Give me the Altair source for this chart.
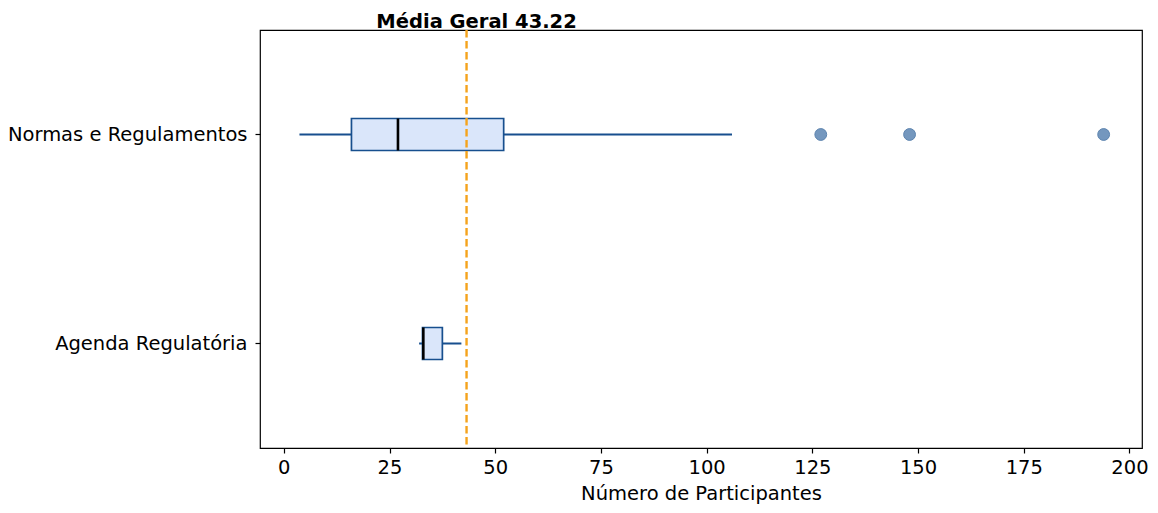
import altair as alt
import pandas as pd

categories = ["Normas e Regulamentos", "Agenda Regulatória"]
whisker_low = [3.7, 32]
q1 = [16, 32.8]
median = [27, 33]
q3 = [52, 37.5]
whisker_high = [106, 42]
outlier_cat = ["Normas e Regulamentos"] * 3
outlier_vals = [127, 148, 193.9]
mean_value = 43.22
x_ticks = [0, 25, 50, 75, 100, 125, 150, 175, 200]

box_df = pd.DataFrame({
    "cat": categories, "low": whisker_low, "q1": q1, "med": median,
    "q3": q3, "high": whisker_high,
})
out_df = pd.DataFrame({"cat": outlier_cat, "val": outlier_vals})
mean_df = pd.DataFrame({"mean": [mean_value], "label": [f"Média Geral {mean_value:.2f}"]})

FONT = "DejaVu Sans"
DARK = "#174f8e"
FS = 19.5

xscale = alt.Scale(domain=[-5.63, 202.97], nice=False, zero=False)
yscale = alt.Scale(domain=categories, paddingInner=0, paddingOuter=0)

xaxis = alt.Axis(values=x_ticks, title="Número de Participantes", grid=False,
                 tickSize=5, tickColor="black", tickWidth=1.2, domain=False,
                 labelColor="black", labelFontSize=FS, titleFontSize=FS,
                 titleFontWeight="normal", labelFont=FONT, titleFont=FONT,
                 titleColor="black", labelPadding=5, titlePadding=8, labelFlush=False)
yaxis = alt.Axis(title=None, grid=False, tickSize=5, tickColor="black", tickWidth=1.2,
                 domain=False, labelColor="black", labelFontSize=FS, labelFont=FONT,
                 labelPadding=8, labelLimit=500)

base = alt.Chart(box_df)

whisker = base.mark_rule(color=DARK, strokeWidth=1.8).encode(
    x=alt.X("low:Q", scale=xscale, axis=xaxis),
    x2="high:Q",
    y=alt.Y("cat:N", scale=yscale, axis=yaxis, sort=categories),
)

box = base.mark_bar(fill="#dae6fa", stroke=DARK, strokeWidth=1.7, size=32).encode(
    x=alt.X("q1:Q", scale=xscale),
    x2="q3:Q",
    y=alt.Y("cat:N", scale=yscale, sort=categories),
)

med = base.mark_tick(color="black", thickness=2.6, size=32, opacity=1).encode(
    x=alt.X("med:Q", scale=xscale),
    y=alt.Y("cat:N", scale=yscale, sort=categories),
)

outliers = alt.Chart(out_df).mark_circle(
    size=140, color="#7497be", opacity=1, stroke="#5d84af", strokeWidth=1
).encode(
    x=alt.X("val:Q", scale=xscale),
    y=alt.Y("cat:N", scale=yscale, sort=categories),
)

mean_rule = alt.Chart(mean_df).mark_rule(
    color="#f5a31c", strokeWidth=2.4, strokeDash=[7.5, 3.5]
).encode(x=alt.X("mean:Q", scale=xscale))

mean_text = alt.Chart(mean_df).mark_text(
    fontSize=FS, fontWeight="bold", font=FONT, color="black",
    align="center", baseline="alphabetic", dx=10
).encode(
    x=alt.X("mean:Q", scale=xscale),
    y=alt.value(-2),
    text="label:N",
)

chart = alt.layer(whisker, box, med, outliers, mean_rule, mean_text).properties(
    width=882, height=418,
    autosize=alt.AutoSizeParams(type="none"),
    padding={"left": 252, "top": 22, "right": 8, "bottom": 57},
    background="white",
).configure_view(stroke="black", strokeWidth=1.2)

chart.save("out.html", embed_options={"renderer": "svg", "actions": False})
